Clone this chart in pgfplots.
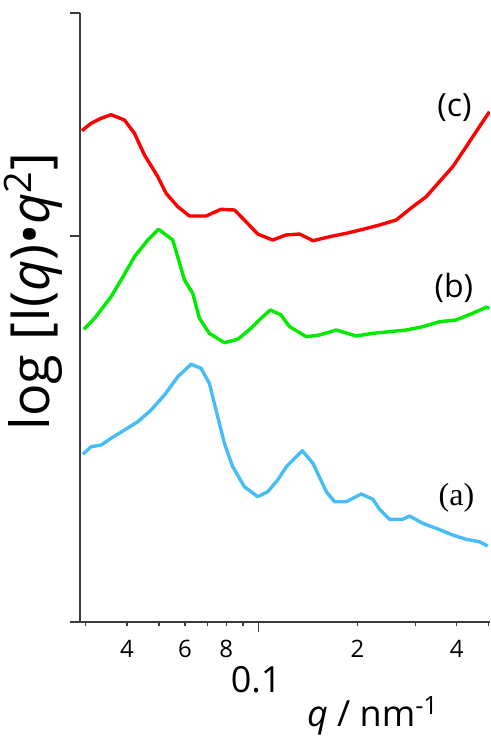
\documentclass[border=0pt]{standalone}
\usepackage{pgfplots}
\pgfplotsset{compat=1.18}
\usepackage{fontspec}
\setmainfont{Open Sans}
\newfontfamily\seriffont{Liberation Serif}

\definecolor{curveC}{RGB}{255,0,0}
\definecolor{curveB}{RGB}{0,235,0}
\definecolor{curveA}{RGB}{70,190,245}
\definecolor{axisgray}{RGB}{60,60,60}

% sample (c)
\pgfplotstableread{
q      y
0.02919 491.3
0.03113 498.7
0.03339 503.7
0.03579 507.3
0.03930 502
0.04213 488.7
0.04519 467
0.04960 445.3
0.05255 428.7
0.05703 415.3
0.06188 406
0.06947 406
0.07712 412.7
0.08471 412
0.09082 402
0.09965 388
0.1106 382
0.1214 387
0.1336 388
0.1466 381.3
0.1647 385.3
0.1851 388.7
0.2078 392.7
0.2334 397
0.2623 402
0.2945 415.3
0.3234 425.3
0.3548 440.3
0.3894 455.3
0.4276 475.3
0.4690 495.3
0.503 510.3
}\dataC

% sample (b)
\pgfplotstableread{
q      y
0.02960 292.7
0.03188 303.7
0.03579 325.3
0.03838 342
0.04215 365.3
0.04626 382
0.04984 392.7
0.05506 382
0.05976 342
0.06331 328.7
0.06634 303.7
0.07112 288.7
0.07900 279.3
0.08669 282.7
0.09510 293.7
0.1020 303.7
0.1089 312
0.1173 307
0.1223 298.7
0.1246 295.3
0.1400 285.3
0.1536 287
0.1726 292
0.1984 286
0.2228 288.7
0.2503 290.3
0.2812 292
0.3158 295.3
0.3548 300.3
0.3988 302
0.4476 308.7
0.4915 314.7
0.503 313.7
}\dataB

% sample (a)
\pgfplotstableread{
q      y
0.02939 167.7
0.03113 175.3
0.03339 177
0.03579 183.7
0.03931 192
0.04314 200.3
0.04734 212
0.05197 227
0.05703 245.3
0.06257 257.7
0.06710 253.7
0.07112 238.7
0.07539 205.3
0.07900 178.7
0.08369 155.3
0.09083 135.3
0.09965 125.3
0.1069 130.3
0.1146 142
0.1218 155.3
0.1290 163.7
0.1361 171.3
0.1466 158.7
0.1610 130.3
0.1705 120.3
0.1851 120.3
0.2055 128
0.2228 122.7
0.2334 112.7
0.2503 102.7
0.2747 102.7
0.2878 106
0.3158 98.7
0.3467 93.7
0.3894 87
0.4276 82.7
0.4690 80.3
0.4971 76
}\dataA

\begin{document}
\begin{tikzpicture}
\useasboundingbox (-40pt,-57pt) rectangle (205.5pt,311pt);
\begin{semilogxaxis}[
  scale only axis,
  width=205pt, height=304.5pt,
  xmin=0.0288, xmax=0.505,
  ymin=0, ymax=609,
  axis lines*=left,
  axis line style={axisgray, line width=0.8pt},
  tick align=outside,
  tick style={axisgray, line width=0.6pt},
  major tick length=5pt,
  minor tick length=2pt,
  xtick={0.1}, xticklabels={0.1},
  minor xtick={0.03,0.05,0.07,0.09,0.3,0.5},
  extra x ticks={0.04,0.06,0.08,0.2,0.4},
  extra x tick labels={4,6,8,2,4},
  extra x tick style={major tick length=2pt,
    xticklabel style={font=\fontsize{12}{14}\selectfont, yshift=14.5pt, xshift=1pt}},
  xticklabel style={font=\fontsize{18}{20}\selectfont, anchor=base, yshift=-30pt, xshift=-1pt},
  ytick={0,386,609}, yticklabels={},
  /pgf/number format/assume math mode=true,
  xlabel={\textit{q} / nm\textsuperscript{-1}},
  xlabel style={at={(axis description cs:0.5366,-0.172)}, anchor=base west,
    font=\fontsize{18}{20}\selectfont},
  ylabel={log [I(\textit{q})•\textit{q}\textsuperscript{2}]},
  ylabel style={at={(axis description cs:-0.0732,0.5427)}, anchor=base,
    font=\fontsize{27}{30}\selectfont},
]
\addplot[curveC, line width=1.7pt, line join=round] table[x=q, y=y] {\dataC};
\addplot[curveB, line width=1.7pt, line join=round] table[x=q, y=y] {\dataB};
\addplot[curveA, line width=1.7pt, line join=round] table[x=q, y=y] {\dataA};

\node[font=\fontsize{16}{18}\selectfont] at (axis cs:0.394,514.5) {(c)};
\node[font=\fontsize{16}{18}\selectfont] at (axis cs:0.3926,334) {(b)};
\node[font=\fontsize{16}{18}\selectfont\seriffont] at (axis cs:0.3996,124) {(a)};
\end{semilogxaxis}
\end{tikzpicture}
\end{document}
